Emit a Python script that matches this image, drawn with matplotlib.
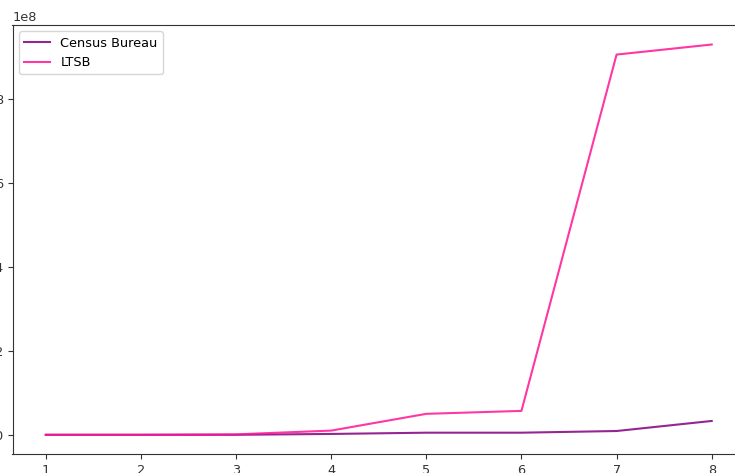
import matplotlib; matplotlib.use('Agg')
import matplotlib.pyplot as plt

# valores por periodo (1..8)
periodos = [1, 2, 3, 4, 5, 6, 7, 8]
census = [0.0, 0.0, 0.0, 0.02e8, 0.05e8, 0.05e8, 0.09e8, 0.33e8]
ltsb = [0.0, 0.0, 0.01e8, 0.1e8, 0.5e8, 0.57e8, 9.07e8, 9.31e8]

plt.rcParams['font.size'] = 9.3
plt.rcParams['xtick.color'] = '#333333'
plt.rcParams['ytick.color'] = '#333333'
plt.rcParams['axes.edgecolor'] = '#333333'

W, H = 735, 473
fig = plt.figure(figsize=(W / 100, H / 100), dpi=100)
# eixo um pouco mais largo que a figura: rotulos do eixo y ficam cortados a esquerda
ax = fig.add_axes([12.5 / W, (H - 454.3) / H, (745 - 12.5) / W, (454.3 - 25) / H])
ax.plot(periodos, census, color='purple', alpha=0.85, lw=1.5, label='Census Bureau')
ax.plot(periodos, ltsb, color='deeppink', alpha=0.85, lw=1.5, label='LTSB')
ax.legend(loc='upper left')
fig.savefig('out.png', dpi=100)
